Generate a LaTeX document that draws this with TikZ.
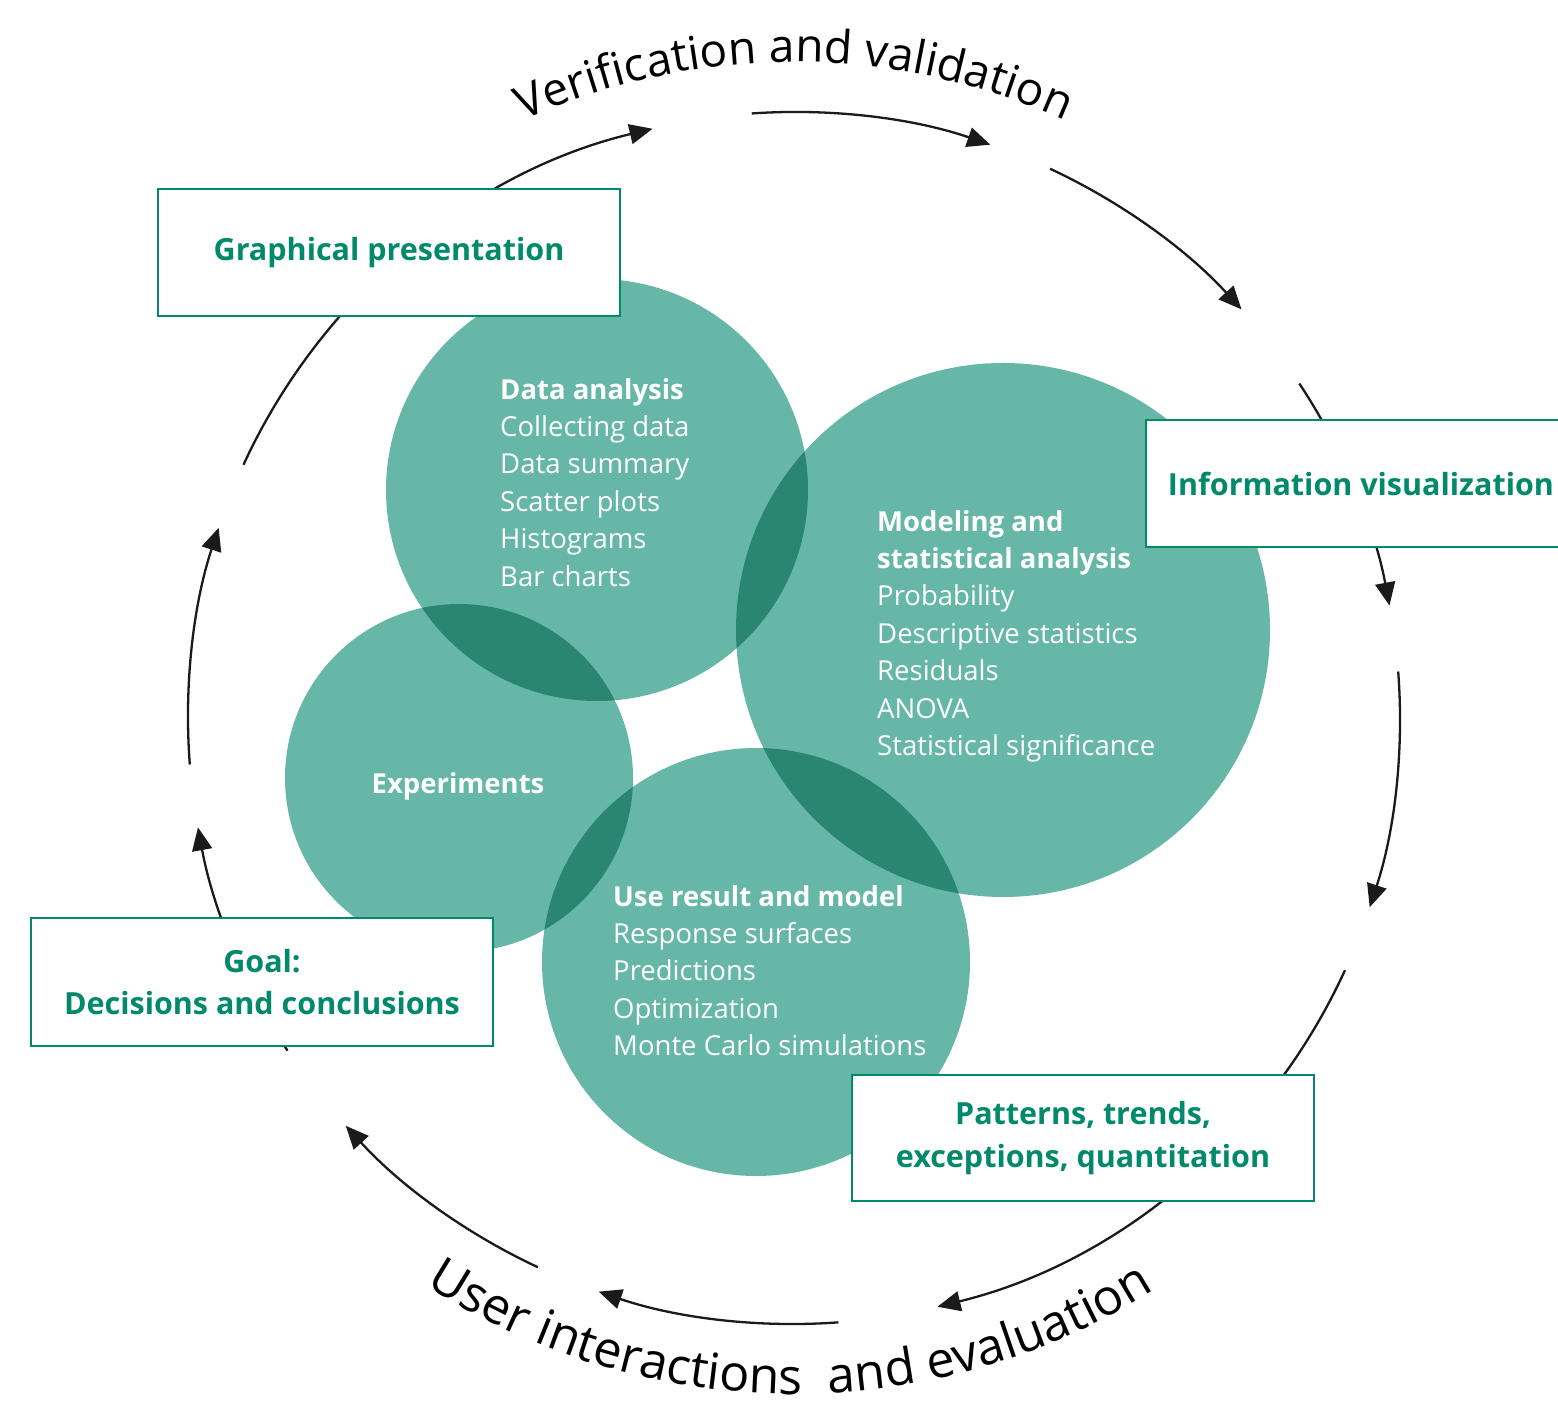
\documentclass[tikz,border=0pt]{standalone}
\usepackage{fontspec}
\setmainfont{Open Sans}
\usetikzlibrary{arrows.meta,decorations.text}

\definecolor{tealfill}{HTML}{67B7A8}
\definecolor{tealdark}{HTML}{2A8670}
\definecolor{boxgreen}{HTML}{00896B}
\definecolor{inkline}{HTML}{1A1A1A}

\begin{document}
\begin{tikzpicture}[
  x=1pt,
  y=1pt,
  >={Triangle[length=23pt,width=20pt]},
  labelbox/.style={draw=boxgreen, line width=2.5pt, fill=white, minimum width=462pt, minimum height=127pt, align=center, text=boxgreen, font=\fontsize{30.5}{42.5}\selectfont\bfseries},
  topic/.style={text=white, align=left, anchor=north west, inner sep=0pt, font=\fontsize{27.5}{37.4}\selectfont},
  cyc/.style={draw=inkline, line width=2.3pt, ->}
]
  \useasboundingbox (0,0) rectangle (1558,1401);
  \clip (0,0) rectangle (1558,1401);

  \coordinate (cen) at (794,683);
  \coordinate (da) at (597,911);
  \coordinate (ms) at (1003,771);
  \coordinate (ex) at (459,623);
  \coordinate (ur) at (756,439);

  % circles and their overlaps
  \fill[tealfill] (da) circle[radius=211];
  \fill[tealfill] (ms) circle[radius=267];
  \fill[tealfill] (ex) circle[radius=174];
  \fill[tealfill] (ur) circle[radius=214];
  \begin{scope}
    \clip (da) circle[radius=211];
    \fill[tealdark] (ms) circle[radius=267];
    \fill[tealdark] (ex) circle[radius=174];
  \end{scope}
  \begin{scope}
    \clip (ur) circle[radius=214];
    \fill[tealdark] (ms) circle[radius=267];
    \fill[tealdark] (ex) circle[radius=174];
  \end{scope}

  \node[topic] (datatxt) at (500,1023) {\textbf{Data analysis}\\Collecting data\\Data summary\\Scatter plots\\Histograms\\Bar charts};
  \node[topic] (modeltxt) at (877,891) {\textbf{Modeling and}\\\textbf{statistical analysis}\\Probability\\Descriptive statistics\\Residuals\\ANOVA\\Statistical significance};
  \node[topic] (usetxt) at (613,516) {\textbf{Use result and model}\\Response surfaces\\Predictions\\Optimization\\Monte Carlo simulations};
  \node[topic, anchor=base, align=center] (exptxt) at (458,607) {\textbf{Experiments}};

  % cycle of arrows
  \foreach \a/\b in {155.3/103.5, 94/71.1, 65/42.4, 33.5/10.7, 4.4/-18.2, -24.6/-76.3, -85.8/-108.8, -115/-137.7, -146.7/-169.6, -175.6/-198.3}
    \draw[cyc] (cen) ++(\a:606) arc[start angle=\a, end angle=\b, radius=606];

  \path[decorate, decoration={text along path, text align=center, text={|\fontsize{46}{46}\selectfont|Verification and validation}}]
    (cen) ++(130:656) arc[start angle=130, end angle=50, radius=656];
  \path[decorate, decoration={text along path, text align=center, text={|\fontsize{50}{50}\selectfont|User interactions{~} and evaluation}}]
    (cen) ++(209.6:676) arc[start angle=209.6, end angle=329.6, radius=676];

  % label boxes
  \node[labelbox] (graph) at (389,1148.5) {Graphical presentation};
  \node[labelbox, minimum width=430pt] (info) at (1361,917.5) {Information visualization};
  \node[labelbox, minimum height=128pt] (goal) at (262,419) {Goal:\\Decisions and conclusions};
  \node[labelbox, minimum height=126pt] (patt) at (1083,263) {Patterns, trends,\\exceptions, quantitation};
\end{tikzpicture}
\end{document}
